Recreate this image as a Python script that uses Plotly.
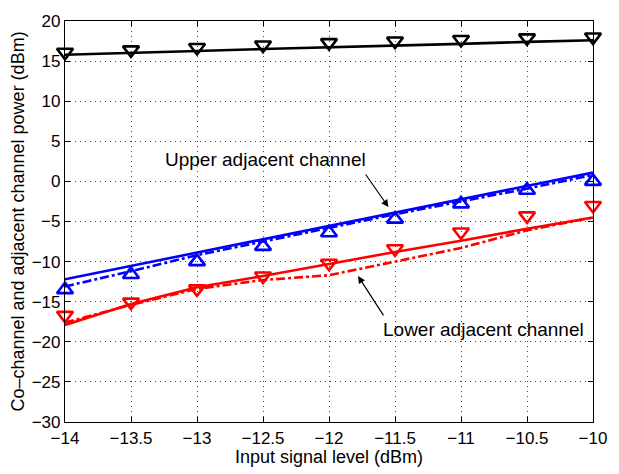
import plotly.graph_objects as go

# Input signal level (dBm)
input_level = [-14, -13.5, -13, -12.5, -12, -11.5, -11, -10.5, -10]

# Co-channel power
co_line = [15.8, 16.0, 16.25, 16.5, 16.7, 16.95, 17.15, 17.4, 17.6]
co_meas = [16.1, 16.4, 16.7, 17.0, 17.3, 17.5, 17.7, 17.9, 18.0]

# Upper adjacent channel
upper_line = [-12.2, -10.54, -8.88, -7.21, -5.55, -3.89, -2.23, -0.56, 1.1]
upper_dash = [-13.1, -11.2, -9.2, -7.5, -5.8, -4.1, -2.5, -0.9, 0.8]
upper_meas = [-13.5, -11.6, -10.0, -8.1, -6.4, -4.7, -2.8, -1.1, 0.0]

# Lower adjacent channel
lower_line = [-17.9, -15.3, -13.2, -11.8, -10.3, -8.8, -7.4, -5.9, -4.5]
lower_dash = [-17.6, -15.4, -13.4, -12.3, -11.7, -10.0, -8.3, -6.1, -4.5]
lower_meas = [-16.7, -15.05, -13.4, -11.8, -10.2, -8.4, -6.3, -4.3, -3.0]

x_ticks = [-14, -13.5, -13, -12.5, -12, -11.5, -11, -10.5, -10]
x_tick_text = ["\u221214", "\u221213.5", "\u221213", "\u221212.5", "\u221212",
               "\u221211.5", "\u221211", "\u221210.5", "\u221210"]
y_ticks = [-30, -25, -20, -15, -10, -5, 0, 5, 10, 15, 20]
y_tick_text = [str(v).replace("-", "\u2212") for v in y_ticks]

BLUE = "#0000ff"
RED = "#ff0000"
BLACK = "#000000"

fig = go.Figure()

def line(y, color, dash="solid"):
    fig.add_trace(go.Scatter(x=input_level, y=y, mode="lines",
                             line=dict(color=color, width=2.6, dash=dash),
                             showlegend=False, hoverinfo="skip"))

def markers(y, color, symbol):
    fig.add_trace(go.Scatter(x=input_level, y=y, mode="markers",
                             marker=dict(symbol=symbol, size=14, color=color,
                                         line=dict(color=color, width=2.6)),
                             showlegend=False, cliponaxis=False))

line(co_line, BLACK)
markers(co_meas, BLACK, "triangle-down-open")

line(upper_dash, BLUE, "dashdot")
line(upper_line, BLUE)
markers(upper_meas, BLUE, "triangle-up-open")

line(lower_dash, RED, "dashdot")
line(lower_line, RED)
markers(lower_meas, RED, "triangle-down-open")

fig.add_annotation(x=-11.55, y=-3.2, ax=-11.73, ay=1.05, xref="x", yref="y",
                   axref="x", ayref="y", showarrow=True, arrowhead=2,
                   arrowsize=1.2, arrowwidth=1.2, arrowcolor=BLACK, text="")
fig.add_annotation(x=-12.48, y=1.2, text="Upper adjacent channel", showarrow=False,
                   font=dict(size=19, color=BLACK), xanchor="center", yanchor="bottom")

fig.add_annotation(x=-11.78, y=-11.8, ax=-11.58, ay=-16.9, xref="x", yref="y",
                   axref="x", ayref="y", showarrow=True, arrowhead=2,
                   arrowsize=1.2, arrowwidth=1.2, arrowcolor=BLACK, text="")
fig.add_annotation(x=-10.83, y=-16.9, text="Lower adjacent channel", showarrow=False,
                   font=dict(size=19, color=BLACK), xanchor="center", yanchor="top")

axis_common = dict(showline=True, linecolor=BLACK, linewidth=1.2, mirror="ticks",
                   ticks="inside", ticklen=5, tickcolor=BLACK,
                   showgrid=True, gridcolor="#444444", griddash="1px,4px", gridwidth=1,
                   zeroline=False, tickfont=dict(size=17, color=BLACK),
                   title_font=dict(size=18, color=BLACK))

fig.update_xaxes(range=[-14, -10], tickvals=x_ticks, ticktext=x_tick_text,
                 title_text="Input signal level (dBm)", title_standoff=2, **axis_common)
fig.update_yaxes(range=[-30, 20], tickvals=y_ticks, ticktext=y_tick_text,
                 title_text="Co\u2013channel and adjacent channel power (dBm)",
                 title_standoff=2, **axis_common)

fig.update_layout(width=619, height=474, margin=dict(l=65, r=22, t=15, b=50),
                  plot_bgcolor="white", paper_bgcolor="white",
                  font=dict(family="Liberation Sans, Arial, sans-serif", color=BLACK))

fig.write_html("out.html")
